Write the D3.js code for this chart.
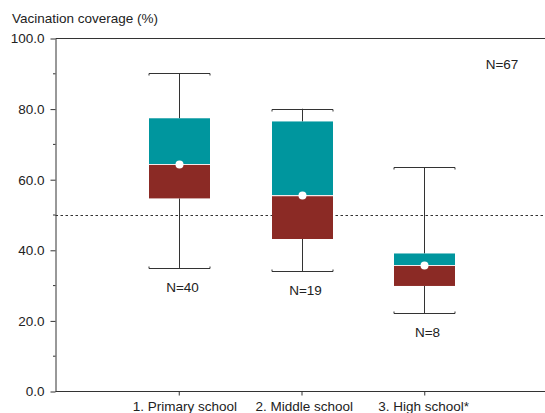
<!DOCTYPE html>
<html>
<head>
<meta charset="utf-8">
<script src="https://cdn.jsdelivr.net/npm/d3@7"></script>
<style>
  html, body { margin: 0; padding: 0; background: #fff; }
  svg { display: block; font-family: "Liberation Sans", Arial, sans-serif; }
</style>
</head>
<body>
<svg id="chart" width="545" height="413"></svg>
<script>
// ---- data ----
const categories = ["1. Primary school", "2. Middle school", "3. High school*"];
const whiskerHigh = [90.1, 80.1, 63.5];
const q3 = [77.4, 76.5, 39.1];
const median = [64.3, 55.5, 35.7];
const q1 = [54.7, 43.2, 29.9];
const whiskerLow = [35.0, 34.1, 22.2];
const nLabels = ["N=40", "N=19", "N=8"];
const totalLabel = "N=67";
const referenceLine = 50;
const yMajorTicks = [0, 20, 40, 60, 80, 100];
const yMinorTicks = [10, 30, 50, 70, 90];
const yTitle = "Vacination coverage (%)";

// ---- layout ----
const svg = d3.select("#chart");
const plotL = 55.5, plotR = 545, plotT = 38.5, plotB = 391.5;
const teal = "#00969e", darkRed = "#8b2a25", ink = "#333";
const fontFam = "Liberation Sans, Arial, sans-serif";

const x = d3.scalePoint().domain(categories).range([56, 547]).padding(1);
const y = d3.scaleLinear().domain([0, 100]).range([plotB, plotT]);
const boxW = 61;

const rows = categories.map((c, i) => ({
  c, hi: whiskerHigh[i], q3: q3[i], med: median[i], q1: q1[i], lo: whiskerLow[i], n: nLabels[i]
}));

// title
svg.append("text").attr("x", 12).attr("y", 23).attr("font-size", 13.5).attr("fill", "#222").text(yTitle);

// frame lines
svg.append("line").attr("x1", plotL).attr("x2", plotR).attr("y1", y(100)).attr("y2", y(100))
  .attr("stroke", ink).attr("stroke-width", 1);
svg.append("line").attr("x1", plotL).attr("x2", plotR).attr("y1", y(0)).attr("y2", y(0))
  .attr("stroke", ink).attr("stroke-width", 1);

// y axis
const yAxis = svg.append("g").attr("transform", `translate(${plotL},0)`)
  .call(d3.axisLeft(y).tickValues(yMajorTicks).tickFormat(d3.format(".1f")).tickSize(5).tickSizeOuter(0).tickPadding(6));
yAxis.select(".domain").attr("stroke", ink);
yAxis.selectAll(".tick line").attr("stroke", ink);
yAxis.selectAll("text").attr("font-size", 13.5).attr("fill", "#222").attr("font-family", fontFam);
svg.append("g").selectAll("line").data(yMinorTicks).join("line")
  .attr("x1", plotL - 2.5).attr("x2", plotL).attr("y1", d => y(d)).attr("y2", d => y(d))
  .attr("stroke", ink);

// x axis
const xAxis = svg.append("g").attr("transform", `translate(0,${plotB})`)
  .call(d3.axisBottom(x).tickSize(4).tickSizeOuter(0).tickPadding(6));
xAxis.select(".domain").remove();
xAxis.selectAll(".tick line").attr("stroke", ink);
xAxis.selectAll("text").attr("font-size", 13.5).attr("fill", "#222").attr("font-family", fontFam)
  .attr("text-anchor", "start").attr("x", -46.5);

// reference line
svg.append("line").attr("x1", plotL).attr("x2", plotR)
  .attr("y1", Math.round(y(referenceLine)) + 0.5).attr("y2", Math.round(y(referenceLine)) + 0.5)
  .attr("stroke", ink).attr("stroke-dasharray", "2.5,2.5").attr("stroke-width", 1);

// boxes
const g = svg.append("g").selectAll("g").data(rows).join("g");
const cx = d => Math.round(x(d.c)) + 0.5;

g.append("line").attr("x1", cx).attr("x2", cx).attr("y1", d => y(d.hi)).attr("y2", d => y(d.q3))
  .attr("stroke", ink);
g.append("line").attr("x1", cx).attr("x2", cx).attr("y1", d => y(d.q1)).attr("y2", d => y(d.lo))
  .attr("stroke", ink);
g.append("path").attr("fill", "none").attr("stroke", ink)
  .attr("d", d => {
    const yy = Math.round(y(d.hi)) + 0.5, a = cx(d) - boxW / 2, b = cx(d) + boxW / 2;
    return `M${a},${yy + 2}V${yy}H${b}V${yy + 2}`;
  });
g.append("path").attr("fill", "none").attr("stroke", ink)
  .attr("d", d => {
    const yy = Math.round(y(d.lo)) + 0.5, a = cx(d) - boxW / 2, b = cx(d) + boxW / 2;
    return `M${a},${yy - 2}V${yy}H${b}V${yy - 2}`;
  });
g.append("rect").attr("x", d => cx(d) - boxW / 2).attr("width", boxW)
  .attr("y", d => y(d.q3)).attr("height", d => y(d.med) - y(d.q3)).attr("fill", teal);
g.append("rect").attr("x", d => cx(d) - boxW / 2).attr("width", boxW)
  .attr("y", d => y(d.med)).attr("height", d => y(d.q1) - y(d.med)).attr("fill", darkRed);
g.append("line").attr("x1", d => cx(d) - boxW / 2).attr("x2", d => cx(d) + boxW / 2)
  .attr("y1", d => y(d.med)).attr("y2", d => y(d.med)).attr("stroke", "#f4e8e8").attr("stroke-width", 1.2);
g.append("circle").attr("cx", cx).attr("cy", d => y(d.med)).attr("r", 4).attr("fill", "#fff");
g.append("text").attr("x", d => cx(d) + 3).attr("y", d => y(d.lo) + 24)
  .attr("text-anchor", "middle").attr("font-size", 13.5).attr("fill", "#222").text(d => d.n);

svg.append("text").attr("x", 502).attr("y", 69).attr("text-anchor", "middle")
  .attr("font-size", 13.5).attr("fill", "#222").text(totalLabel);
</script>
</body>
</html>
